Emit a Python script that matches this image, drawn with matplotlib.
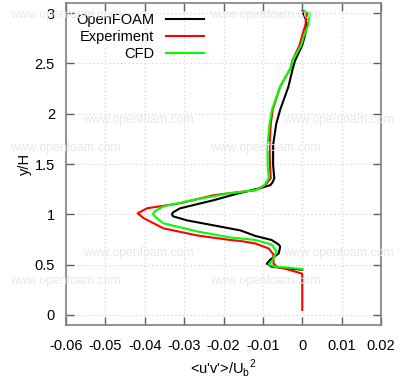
import matplotlib
matplotlib.use("Agg")
import matplotlib.pyplot as plt

plt.rcParams['font.family'] = ['Liberation Sans', 'DejaVu Sans']

# OpenFOAM (black)
of_y = [3.02, 3.00, 2.95, 2.88, 2.78, 2.68, 2.53, 2.45, 2.27, 2.04, 1.90, 1.69, 1.49, 1.40,
        1.36, 1.32, 1.29, 1.26, 1.20, 1.14, 1.06, 1.02, 1.00, 0.98, 0.94, 0.89, 0.84, 0.785,
        0.745, 0.70, 0.68, 0.64, 0.61, 0.55, 0.51, 0.48, 0.46, 0.45]
of_x = [0.0001, 0.0002, 0.0008, 0.0012, 0.0007, 0.0000, -0.0018, -0.0024, -0.0035, -0.0056,
        -0.0066, -0.0074, -0.0074, -0.0072, -0.0071, -0.0075, -0.0081, -0.0107, -0.0170,
        -0.0225, -0.0310, -0.0328, -0.0331, -0.0328, -0.0293, -0.0225, -0.0157, -0.0119,
        -0.0078, -0.0060, -0.0056, -0.0058, -0.0060, -0.0081, -0.0090, -0.0078, -0.0035, 0.0]

# Experiment (red)
ex_y = [3.02, 3.00, 2.95, 2.88, 2.78, 2.68, 2.53, 2.45, 2.27, 2.04, 1.90, 1.69, 1.49, 1.36,
        1.29, 1.24, 1.19, 1.11, 1.06, 1.01, 0.96, 0.86, 0.79, 0.745, 0.735, 0.71, 0.66,
        0.60, 0.51, 0.48, 0.45, 0.41, 0.05]
ex_x = [0.0002, 0.0012, 0.0010, 0.0008, 0.0000, -0.0007, -0.0025, -0.0030, -0.0056, -0.0075,
        -0.0080, -0.0083, -0.0082, -0.0080, -0.0094, -0.0120, -0.0225, -0.0310, -0.0394,
        -0.0418, -0.0402, -0.0352, -0.0267, -0.0183, -0.0157, -0.0119, -0.0085, -0.0073,
        -0.0073, -0.0065, -0.0035, 0.0, 0.0]

# CFD (green)
cfd_y = [3.02, 3.00, 2.97, 2.88, 2.78, 2.68, 2.53, 2.45, 2.27, 2.04, 1.90, 1.69, 1.49, 1.36,
         1.29, 1.24, 1.21, 1.15, 1.08, 1.03, 1.00, 0.97, 0.91, 0.83, 0.77, 0.745, 0.70,
         0.63, 0.56, 0.50, 0.48, 0.47, 0.455]
cfd_x = [0.0005, 0.0019, 0.0018, 0.0015, 0.0005, -0.0003, -0.0025, -0.0030, -0.0056, -0.0077,
         -0.0083, -0.0088, -0.0088, -0.0085, -0.0096, -0.0118, -0.0183, -0.0267, -0.0352,
         -0.0375, -0.0379, -0.0372, -0.0352, -0.0267, -0.0183, -0.0119, -0.0078, -0.0065,
         -0.0073, -0.0085, -0.0069, -0.0035, 0.0]

x_ticks = [-0.06, -0.05, -0.04, -0.03, -0.02, -0.01, 0, 0.01, 0.02]
x_labels = ['-0.06', '-0.05', '-0.04', '-0.03', '-0.02', '-0.01', '0', '0.01', '0.02']
y_ticks = [0, 0.5, 1, 1.5, 2, 2.5, 3]
y_labels = ['0', '0.5', '1', '1.5', '2', '2.5', '3']

fig = plt.figure(figsize=(4.0, 3.8), dpi=100)
ax = fig.add_axes([66/400, 55/380, (381-66)/400, (325-3)/380])
ax.set_facecolor('none')

# watermarks
wm = [(10, 15), (210, 15), (83, 120), (283, 120), (10, 148), (210, 148),
      (83, 253), (283, 253), (10, 281), (210, 281)]
for (px, py) in wm:
    fig.text(px/400, 1 - py/380, 'www.openfoam.com', color='#e8e8e8', fontsize=8.8,
             ha='left', va='center', zorder=0)

ax.plot(of_x, of_y, color='black', lw=1.5, label='OpenFOAM', zorder=3)
ax.plot(ex_x, ex_y, color='#ff0000', lw=1.5, label='Experiment', zorder=3)
ax.plot(cfd_x, cfd_y, color='#00ff00', lw=1.5, label='CFD', zorder=3)

ax.set_xlim(-0.06, 0.02)
ax.set_ylim(-0.1, 3.1)
ax.set_xticks(x_ticks)
ax.set_xticklabels(x_labels)
ax.set_yticks(y_ticks)
ax.set_yticklabels(y_labels)
ax.tick_params(direction='in', length=6, width=1, color='#606060', top=True, right=True,
               labelsize=10.5, pad=10, labelcolor='black')
ax.tick_params(axis='y', pad=8)
ax.grid(True, color='#d0d0d0', linestyle=(0, (1, 2.5)), lw=0.8)
for s in ax.spines.values():
    s.set_color('#808080')
    s.set_linewidth(1.2)

ax.set_xlabel(r"<u'v'>/U$_\mathregular{b}$$^\mathregular{2}$", fontsize=10.5, labelpad=3)
ax.set_ylabel('y/H', fontsize=10.5, labelpad=2)

leg = ax.legend(loc='upper left', bbox_to_anchor=(0.0, 1.0), frameon=False, markerfirst=False,
                fontsize=10.5, handlelength=2.6, labelspacing=0.2, borderaxespad=0.3)

fig.savefig('out.png', dpi=100)
